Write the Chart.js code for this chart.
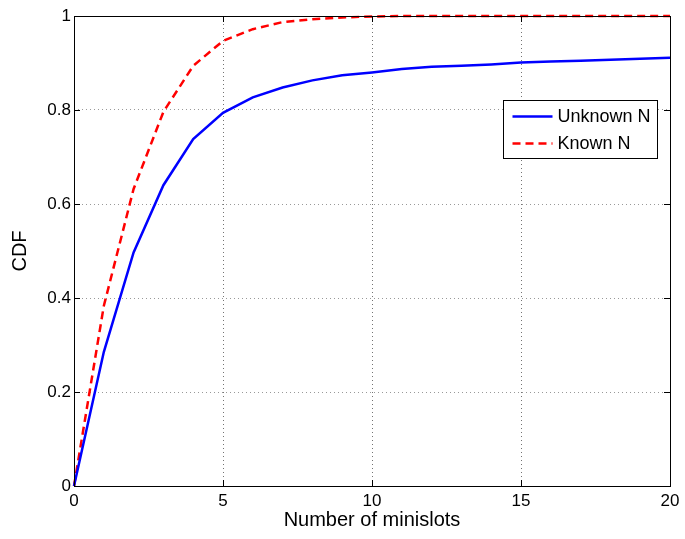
<!DOCTYPE html>
<html>
<head>
<meta charset="utf-8">
<script src="https://cdn.jsdelivr.net/npm/chart.js@4/dist/chart.umd.min.js"></script>
<style>
  html, body { margin: 0; padding: 0; background: #fff; }
  #wrap { width: 685px; height: 539px; }
</style>
</head>
<body>
<div id="wrap"><canvas id="cdf"></canvas></div>
<script>
// values
var minislots = [0, 1, 2, 3, 4, 5, 6, 7, 8, 9, 10, 11, 12, 13, 14, 15, 16, 17, 18, 19, 20];
var unknownN = [0, 0.285, 0.497, 0.640, 0.738, 0.794, 0.827, 0.848, 0.863, 0.874, 0.880, 0.887, 0.892, 0.894, 0.897, 0.901, 0.903, 0.905, 0.907, 0.909, 0.911];
var knownN = [0, 0.383, 0.632, 0.796, 0.894, 0.947, 0.972, 0.987, 0.993, 0.997, 0.999, 1, 1, 1, 1, 1, 1, 1, 1, 1, 1];
var xTicks = [0, 5, 10, 15, 20];
var yTicks = [0, 0.2, 0.4, 0.6, 0.8, 1];

var font = "'Liberation Sans', Arial, Helvetica, sans-serif";

function toPoints(ys) {
  return minislots.map(function(x, i) { return { x: x, y: ys[i] }; });
}

// matlab style box, inward ticks and the legend inside the axes
var matlabBox = {
  id: 'matlabBox',
  afterDraw: function(chart) {
    var ctx = chart.ctx;
    var a = chart.chartArea;
    var xs = chart.scales.x, ys = chart.scales.y;
    ctx.save();
    ctx.strokeStyle = '#000';
    ctx.lineWidth = 1;
    ctx.setLineDash([]);
    ctx.beginPath();
    xTicks.forEach(function(t) {
      var px = Math.round(xs.getPixelForValue(t)) + 0.5;
      ctx.moveTo(px, a.bottom); ctx.lineTo(px, a.bottom - 6);
      ctx.moveTo(px, a.top); ctx.lineTo(px, a.top + 6);
    });
    yTicks.forEach(function(t) {
      var py = Math.round(ys.getPixelForValue(t)) + 0.5;
      ctx.moveTo(a.left, py); ctx.lineTo(a.left + 6, py);
      ctx.moveTo(a.right, py); ctx.lineTo(a.right - 6, py);
    });
    ctx.stroke();
    ctx.strokeRect(Math.round(a.left) + 0.5, Math.round(a.top) + 0.5,
                   Math.round(a.right - a.left), Math.round(a.bottom - a.top));

    // legend
    var bx = 503.5, by = 100.5, bw = 154, bh = 58;
    ctx.fillStyle = '#fff';
    ctx.fillRect(bx, by, bw, bh);
    ctx.strokeRect(bx, by, bw, bh);
    ctx.font = '18px ' + font;
    ctx.textBaseline = 'middle';
    chart.data.datasets.forEach(function(ds, i) {
      var ly = by + 16 + i * 27;
      ctx.strokeStyle = ds.borderColor;
      ctx.lineWidth = ds.borderWidth;
      ctx.setLineDash(ds.borderDash || []);
      ctx.beginPath();
      ctx.moveTo(bx + 9, ly); ctx.lineTo(bx + 49, ly);
      ctx.stroke();
      ctx.fillStyle = '#000';
      ctx.fillText(ds.label, bx + 54, ly + 1);
    });
    ctx.restore();
  }
};

new Chart(document.getElementById('cdf'), {
  type: 'line',
  data: {
    datasets: [
      {
        label: 'Unknown N',
        data: toPoints(unknownN),
        borderColor: '#0000ff',
        borderWidth: 2.5,
        pointRadius: 0,
        tension: 0,
        fill: false,
        clip: 4
      },
      {
        label: 'Known N',
        data: toPoints(knownN),
        borderColor: '#ff0000',
        borderWidth: 2.5,
        borderDash: [8, 5],
        pointRadius: 0,
        tension: 0,
        fill: false,
        clip: 4
      }
    ]
  },
  options: {
    responsive: true,
    maintainAspectRatio: false,
    animation: false,
    layout: { padding: { top: 16, right: 15, left: 0, bottom: 0 } },
    plugins: {
      legend: { display: false },
      tooltip: { enabled: false }
    },
    scales: {
      x: {
        type: 'linear',
        min: 0,
        max: 20,
        afterFit: function(s) { s.height = 53; },
        afterBuildTicks: function(s) { s.ticks = xTicks.map(function(v) { return { value: v }; }); },
        grid: {
          color: 'rgba(0,0,0,0.55)',
          lineWidth: 1,
          tickLength: 0,
          drawTicks: false
        },
        border: { display: false, dash: [1, 3] },
        ticks: {
          color: '#000',
          padding: 5,
          font: { family: font, size: 17 },
          callback: function(v) { return String(v); }
        },
        title: {
          display: true,
          text: 'Number of minislots',
          color: '#000',
          padding: { top: 0, bottom: 7 },
          font: { family: font, size: 20 }
        }
      },
      y: {
        type: 'linear',
        min: 0,
        max: 1,
        afterFit: function(s) { s.width = 74; },
        afterBuildTicks: function(s) { s.ticks = yTicks.map(function(v) { return { value: v }; }); },
        grid: {
          color: 'rgba(0,0,0,0.4)',
          lineWidth: 1,
          tickLength: 0,
          drawTicks: false
        },
        border: { display: false, dash: [1, 3] },
        ticks: {
          color: '#000',
          padding: 3,
          font: { family: font, size: 17 },
          callback: function(v) { return String(v); }
        },
        title: {
          display: true,
          text: 'CDF',
          color: '#000',
          padding: { top: 8, bottom: 0 },
          font: { family: font, size: 20 }
        }
      }
    }
  },
  plugins: [matlabBox]
});
</script>
</body>
</html>
